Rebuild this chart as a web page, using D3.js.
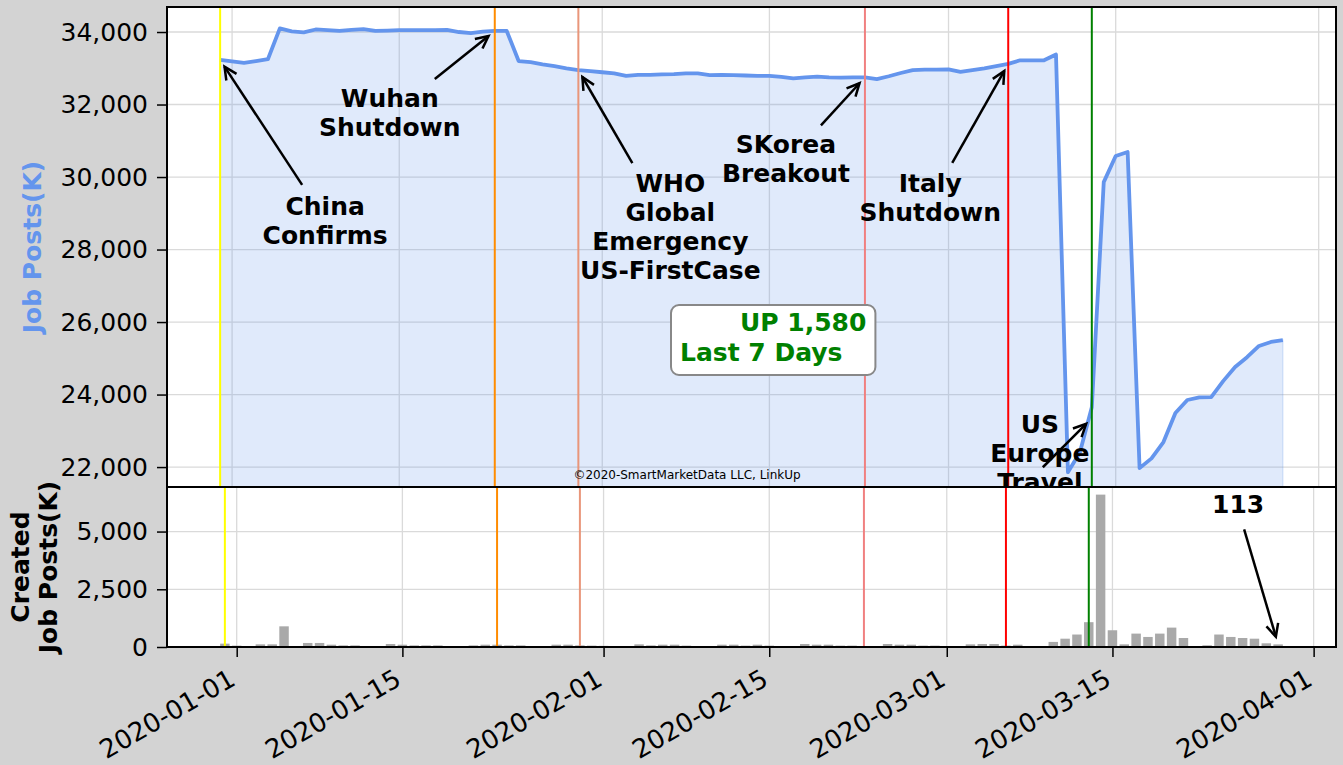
<!DOCTYPE html>
<html>
<head>
<meta charset="utf-8">
<script src="https://cdn.jsdelivr.net/npm/d3@7"></script>
<style>
  body { margin: 0; background: #d3d3d3; }
  svg { display: block; font-family: "DejaVu Sans", sans-serif; }
</style>
</head>
<body>
<svg id="chart"></svg>
<script>
var width = 1343, height = 765;

// daily series from 2019-12-31 to 2020-03-29
var startDate = "2019-12-31", endDate = "2020-03-29";

// total job posts (K)
var jobPosts = [
  33230,
  33190, 33150, 33200, 33250, 34100, 34020, 33990, 34070, 34050, 34030,
  34060, 34080, 34030, 34040, 34050, 34050, 34050, 34050, 34060, 34000,
  33970, 34010, 34030, 34030, 33200, 33170, 33110, 33060, 33000, 32950, 32920,
  32890, 32860, 32790, 32820, 32820, 32830, 32840, 32860, 32860, 32810,
  32820, 32810, 32800, 32790, 32790, 32760, 32720, 32750, 32770, 32750,
  32740, 32750, 32750, 32700, 32780, 32870, 32950, 32960, 32960,
  32970, 32900, 32950, 33000, 33060, 33120, 33220, 33220, 33220, 33380,
  21860, 22400, 23650, 29860, 30580, 30690, 21970, 22240, 22690, 23490,
  23850, 23920, 23930, 24370, 24760, 25030, 25340, 25450, 25500
];

// newly created job posts (K)
var createdPosts = [
  145,
  60, 0, 115, 115, 895, 30, 175, 175, 100, 70,
  70, 0, 0, 130, 100, 70, 70, 70, 0, 0,
  70, 100, 100, 70, 70, 0, 0, 100, 100, 70, 60,
  50, 0, 0, 115, 70, 100, 100, 60, 0, 0,
  100, 100, 60, 100, 60, 0, 0, 130, 100, 100,
  60, 60, 0, 0, 130, 100, 100, 60, 60,
  0, 30, 115, 130, 130, 60, 100, 0, 30, 220,
  360, 540, 1075, 6600, 725, 115, 580, 435, 580, 840,
  390, 0, 75, 540, 435, 390, 360, 160, 113
];

var eventDates = ["2019-12-31", "2020-01-23", "2020-01-30", "2020-02-23", "2020-03-06", "2020-03-13"];
var eventLabels = [
  ["China", "Confirms"],
  ["Wuhan", "Shutdown"],
  ["WHO", "Global", "Emergency", "US-FirstCase"],
  ["SKorea", "Breakout"],
  ["Italy", "Shutdown"],
  ["US", "Europe", "Travel"]
];
var tickDates = ["2020-01-01", "2020-01-15", "2020-02-01", "2020-02-15", "2020-03-01", "2020-03-15", "2020-04-01"];
var topTicks = [22000, 24000, 26000, 28000, 30000, 32000, 34000];
var bottomTicks = [0, 2500, 5000];
var changeLines = ["UP 1,580", "Last 7 Days"];
var credit = "\u00a92020-SmartMarketData LLC, LinkUp";

// styles / layout
var eventColors = ["yellow", "darkorange", "darksalmon", "lightcoral", "red", "green"];
// [text dx, first baseline dy, arrow tail dx, arrow tail dy, target dy] in px from the pointed value
var labelOffsets = [
  [105, 155, 82, 125, 0],
  [-105, 76, -60, 48, 0],
  [92, 122, 54, 93, 0],
  [-79, 76, -44, 48, 0],
  [-78, 128, -56, 99, 0],
  [-52, 15, -49, 49, 11]
];
var lastOffset = [-40, -131, -34, -115, 0];
var lineColor = "cornflowerblue";
var pT = { l: 167, r: 1336, t: 7, b: 487 };
var pB = { l: 167, r: 1336, t: 487, b: 647 };
var fontSize = 25;

var svg = d3.select("#chart").attr("width", width).attr("height", height);
var parse = d3.utcParse("%Y-%m-%d");
var fmt = d3.format(",");
var DAY = 864e5;

var dates = d3.utcDay.range(parse(startDate), d3.utcDay.offset(parse(endDate), 1));
var rows = dates.map(function (d, i) {
  return { date: d, posts: jobPosts[i], created: createdPosts[i] };
});

function pad(a, b, f) {
  var s = b - a;
  return [new Date(a - s * f), new Date(+b + s * f)];
}
var first = dates[0], last = dates[dates.length - 1];

var xTop = d3.scaleUtc().domain(pad(+first, +last, 0.05)).range([pT.l, pT.r]);
var xBot = d3.scaleUtc().domain(pad(+first - 0.4 * DAY, +last + 0.4 * DAY, 0.05)).range([pB.l, pB.r]);
var yTop = d3.scaleLinear().domain([21450, 34690]).range([pT.b, pT.t]);
var yBot = d3.scaleLinear().domain([0, d3.max(createdPosts) * 1.05]).range([pB.b, pB.t]);

var defs = svg.append("defs");
defs.append("clipPath").attr("id", "clipTop").append("rect")
  .attr("x", pT.l).attr("y", pT.t).attr("width", pT.r - pT.l).attr("height", pT.b - pT.t);
defs.append("clipPath").attr("id", "clipBot").append("rect")
  .attr("x", pB.l).attr("y", pB.t).attr("width", pB.r - pB.l).attr("height", pB.b - pB.t);

svg.append("rect").attr("width", width).attr("height", height).attr("fill", "#d3d3d3");

function arrow(g, x1, y1, x2, y2) {
  g.append("line")
    .attr("x1", x1).attr("y1", y1).attr("x2", x2).attr("y2", y2)
    .attr("stroke", "black").attr("stroke-width", 2.5);
  var a = Math.atan2(y2 - y1, x2 - x1), L = 14, w = 0.45;
  g.append("path")
    .attr("d", "M" + (x2 - L * Math.cos(a - w)) + "," + (y2 - L * Math.sin(a - w)) +
      "L" + x2 + "," + y2 +
      "L" + (x2 - L * Math.cos(a + w)) + "," + (y2 - L * Math.sin(a + w)))
    .attr("fill", "none").attr("stroke", "black").attr("stroke-width", 2.5)
    .attr("stroke-linejoin", "miter");
}

function annotate(g, px, py, lines, off) {
  py = py + off[4];
  var tx = px + off[2], ty = py + off[3];
  var dx = tx - px, dy = ty - py, len = Math.sqrt(dx * dx + dy * dy);
  var hx = px + dx / len * 8, hy = py + dy / len * 8;
  arrow(g, tx, ty, hx, hy);
  var t = g.append("text")
    .attr("x", px + off[0]).attr("y", py + off[1])
    .attr("text-anchor", "middle")
    .attr("font-size", fontSize).attr("font-weight", "bold").attr("fill", "black");
  lines.forEach(function (s, i) {
    t.append("tspan").attr("x", px + off[0]).attr("dy", i == 0 ? 0 : 29).text(s);
  });
}

// ---------- top panel ----------
var gTop = svg.append("g");
gTop.append("rect").attr("x", pT.l).attr("y", pT.t)
  .attr("width", pT.r - pT.l).attr("height", pT.b - pT.t).attr("fill", "white");

var gridTop = gTop.append("g").attr("clip-path", "url(#clipTop)");
gridTop.selectAll(".vg").data(tickDates).enter().append("line")
  .attr("x1", function (d) { return xTop(parse(d)); })
  .attr("x2", function (d) { return xTop(parse(d)); })
  .attr("y1", pT.t).attr("y2", pT.b)
  .attr("stroke", "#dadada").attr("stroke-width", 1.3);
gridTop.selectAll(".hg").data(topTicks).enter().append("line")
  .attr("x1", pT.l).attr("x2", pT.r)
  .attr("y1", function (d) { return yTop(d); })
  .attr("y2", function (d) { return yTop(d); })
  .attr("stroke", "#dadada").attr("stroke-width", 1.3);

var plotTop = gTop.append("g").attr("clip-path", "url(#clipTop)");
var area = d3.area()
  .x(function (d) { return xTop(d.date); })
  .y0(pT.b)
  .y1(function (d) { return yTop(d.posts); });
plotTop.append("path").datum(rows)
  .attr("d", area)
  .attr("fill", lineColor).attr("fill-opacity", 0.2)
  .attr("stroke", lineColor).attr("stroke-opacity", 0.2).attr("stroke-width", 1.5);

var line = d3.line()
  .x(function (d) { return xTop(d.date); })
  .y(function (d) { return yTop(d.posts); });
plotTop.append("path").datum(rows)
  .attr("d", line)
  .attr("fill", "none").attr("stroke", lineColor)
  .attr("stroke-width", 3.8).attr("stroke-linejoin", "round");

plotTop.selectAll(".ev").data(eventDates).enter().append("line")
  .attr("x1", function (d) { return xTop(parse(d)); })
  .attr("x2", function (d) { return xTop(parse(d)); })
  .attr("y1", pT.t).attr("y2", pT.b)
  .attr("stroke", function (d, i) { return eventColors[i]; })
  .attr("stroke-width", 2);

gTop.append("text")
  .attr("x", 687).attr("y", pT.b - 8)
  .attr("text-anchor", "middle").attr("font-size", 12).attr("fill", "black")
  .text(credit);

// event annotations
var gAnn = svg.append("g");
eventDates.forEach(function (d, i) {
  var dt = parse(d);
  var idx = d3.bisectLeft(dates, dt);
  annotate(gAnn, xTop(dt), yTop(jobPosts[idx]), eventLabels[i], labelOffsets[i]);
});

// change box
var gBox = svg.append("g");
var boxText = gBox.append("text")
  .attr("font-size", fontSize).attr("font-weight", "bold").attr("fill", "green");
boxText.append("tspan").attr("x", 740).attr("y", 331).text(changeLines[0]);
boxText.append("tspan").attr("x", 680).attr("y", 361).text(changeLines[1]);
var bb = boxText.node().getBBox();
gBox.insert("rect", "text")
  .attr("x", bb.x - 9).attr("y", 305).attr("width", bb.width + 18).attr("height", 70)
  .attr("rx", 8).attr("ry", 8)
  .attr("fill", "white").attr("stroke", "#888").attr("stroke-width", 2);

// top axes
svg.append("rect").attr("x", pT.l).attr("y", pT.t)
  .attr("width", pT.r - pT.l).attr("height", pT.b - pT.t)
  .attr("fill", "none").attr("stroke", "black").attr("stroke-width", 2);
var yAxisTop = d3.axisLeft(yTop).tickValues(topTicks).tickFormat(fmt).tickSize(10).tickPadding(9);
svg.append("g").attr("transform", "translate(" + pT.l + ",0)").call(yAxisTop)
  .call(function (g) {
    g.select(".domain").remove();
    g.selectAll("line").attr("stroke-width", 1.5);
    g.selectAll("text").attr("font-size", fontSize).attr("font-family", "DejaVu Sans").attr("fill", "black");
  });
svg.append("text")
  .attr("transform", "translate(32," + (pT.t + pT.b) / 2 + ") rotate(-90)")
  .attr("text-anchor", "middle").attr("dominant-baseline", "central")
  .attr("font-size", fontSize).attr("font-weight", "bold").attr("fill", lineColor)
  .text("Job Posts(K)");

// ---------- bottom panel ----------
var gBot = svg.append("g");
gBot.append("rect").attr("x", pB.l).attr("y", pB.t)
  .attr("width", pB.r - pB.l).attr("height", pB.b - pB.t).attr("fill", "white");

var plotBot = gBot.append("g").attr("clip-path", "url(#clipBot)");
plotBot.selectAll(".vg").data(tickDates).enter().append("line")
  .attr("x1", function (d) { return xBot(parse(d)); })
  .attr("x2", function (d) { return xBot(parse(d)); })
  .attr("y1", pB.t).attr("y2", pB.b)
  .attr("stroke", "#dadada").attr("stroke-width", 1.3);
plotBot.selectAll(".hg").data(bottomTicks).enter().append("line")
  .attr("x1", pB.l).attr("x2", pB.r)
  .attr("y1", function (d) { return yBot(d); })
  .attr("y2", function (d) { return yBot(d); })
  .attr("stroke", "#dadada").attr("stroke-width", 1.3);

var barW = xBot(new Date(+first + 0.8 * DAY)) - xBot(first);
plotBot.selectAll(".bar").data(rows).enter().append("rect")
  .attr("x", function (d) { return xBot(d.date) - barW / 2; })
  .attr("y", function (d) { return yBot(d.created); })
  .attr("width", barW)
  .attr("height", function (d) { return yBot(0) - yBot(d.created); })
  .attr("fill", "darkgray");

plotBot.selectAll(".ev").data(eventDates).enter().append("line")
  .attr("x1", function (d) { return xBot(parse(d)); })
  .attr("x2", function (d) { return xBot(parse(d)); })
  .attr("y1", pB.t).attr("y2", pB.b)
  .attr("stroke", function (d, i) { return eventColors[i]; })
  .attr("stroke-width", 2);

// last value note
var lastRow = rows[rows.length - 1];
annotate(svg.append("g"), xBot(lastRow.date), yBot(lastRow.created), [String(lastRow.created)], lastOffset);

svg.append("rect").attr("x", pB.l).attr("y", pB.t)
  .attr("width", pB.r - pB.l).attr("height", pB.b - pB.t)
  .attr("fill", "none").attr("stroke", "black").attr("stroke-width", 2);

var yAxisBot = d3.axisLeft(yBot).tickValues(bottomTicks).tickFormat(fmt).tickSize(10).tickPadding(9);
svg.append("g").attr("transform", "translate(" + pB.l + ",0)").call(yAxisBot)
  .call(function (g) {
    g.select(".domain").remove();
    g.selectAll("line").attr("stroke-width", 1.5);
    g.selectAll("text").attr("font-size", fontSize).attr("font-family", "DejaVu Sans").attr("fill", "black");
  });

var xAxisBot = d3.axisBottom(xBot).tickValues(tickDates.map(parse))
  .tickFormat(d3.utcFormat("%Y-%m-%d")).tickSize(10);
svg.append("g").attr("transform", "translate(0," + pB.b + ")").call(xAxisBot)
  .call(function (g) {
    g.select(".domain").remove();
    g.selectAll("line").attr("stroke-width", 1.5);
    g.selectAll("text")
      .attr("font-size", 26).attr("font-family", "DejaVu Sans").attr("fill", "black")
      .attr("text-anchor", "end").attr("dy", null).attr("y", null)
      .attr("transform", "translate(0,37) rotate(-30)");
  });

var botLabel = svg.append("text")
  .attr("transform", "translate(35," + (pB.t + pB.b) / 2 + ") rotate(-90)")
  .attr("text-anchor", "middle")
  .attr("font-size", fontSize).attr("font-weight", "bold").attr("fill", "black");
botLabel.append("tspan").attr("x", 0).attr("y", -6).text("Created");
botLabel.append("tspan").attr("x", 0).attr("y", 22).text("Job Posts(K)");
</script>
</body>
</html>
